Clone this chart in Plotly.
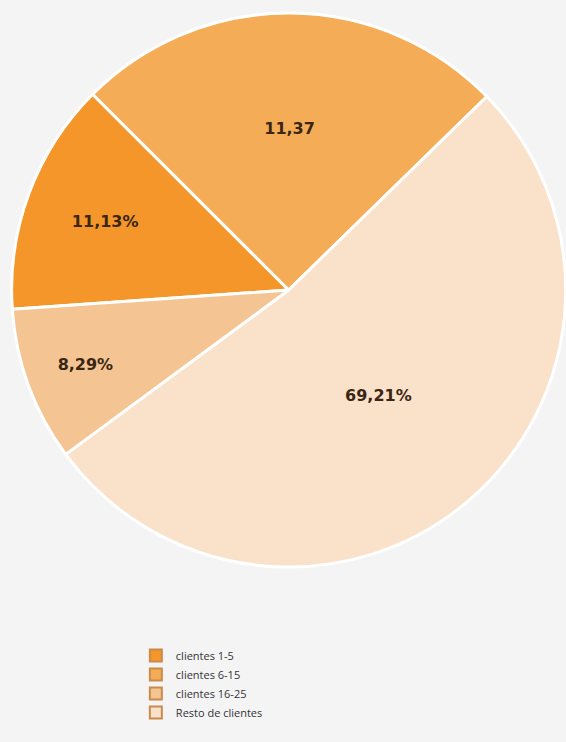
import plotly.graph_objects as go

# legend order
categorias = ["clientes 1-5", "clientes 6-15", "clientes 16-25", "Resto de clientes"]
etiquetas = ["11,13%", "11,37", "8,29%", "69,21%"]
# share of the circle each slice takes in the drawing (the source pie is not to scale)
porcion_dibujada = [13.6, 25.2, 9.0, 52.2]
colores = ["#F5962A", "#F4AC57", "#F4C592", "#F9E1CA"]

# clockwise drawing order around the pie
orden = [0, 1, 3, 2]

pie = go.Pie(
    labels=[categorias[i] for i in orden],
    values=[porcion_dibujada[i] for i in orden],
    text=[etiquetas[i] for i in orden],
    textinfo="text",
    textposition="inside",
    insidetextorientation="horizontal",
    sort=False,
    direction="clockwise",
    rotation=-94,
    marker=dict(colors=[colores[i] for i in orden],
                line=dict(color="#FFFFFF", width=3)),
    textfont=dict(family="DejaVu Sans", size=16, color="#3B2614", weight="bold"),
    domain=dict(x=[0.02, 1.0], y=[0.2358, 0.9825]),
    showlegend=False,
    hoverinfo="label+text",
)

fig = go.Figure(data=[pie])

# legend entries drawn as square markers
for nombre, color in zip(categorias, colores):
    fig.add_trace(go.Scatter(x=[None], y=[None], mode="markers", name=nombre,
                             marker=dict(symbol="square", size=11, color=color,
                                         line=dict(color="#C98A4A", width=0.5))))

fig.update_layout(
    width=566, height=742,
    margin=dict(l=0, r=0, t=0, b=0),
    paper_bgcolor="#F4F4F5",
    plot_bgcolor="#F4F4F5",
    xaxis=dict(visible=False),
    yaxis=dict(visible=False),
    legend=dict(x=0.24, y=0.136, xanchor="left", yanchor="top",
                font=dict(family="Open Sans", size=11, color="#333333"),
                bgcolor="rgba(0,0,0,0)", tracegroupgap=0, itemsizing="constant"),
    showlegend=True,
)

fig.write_html("out.html", config={"displayModeBar": False},
               post_script="document.body.style.margin='0';")
